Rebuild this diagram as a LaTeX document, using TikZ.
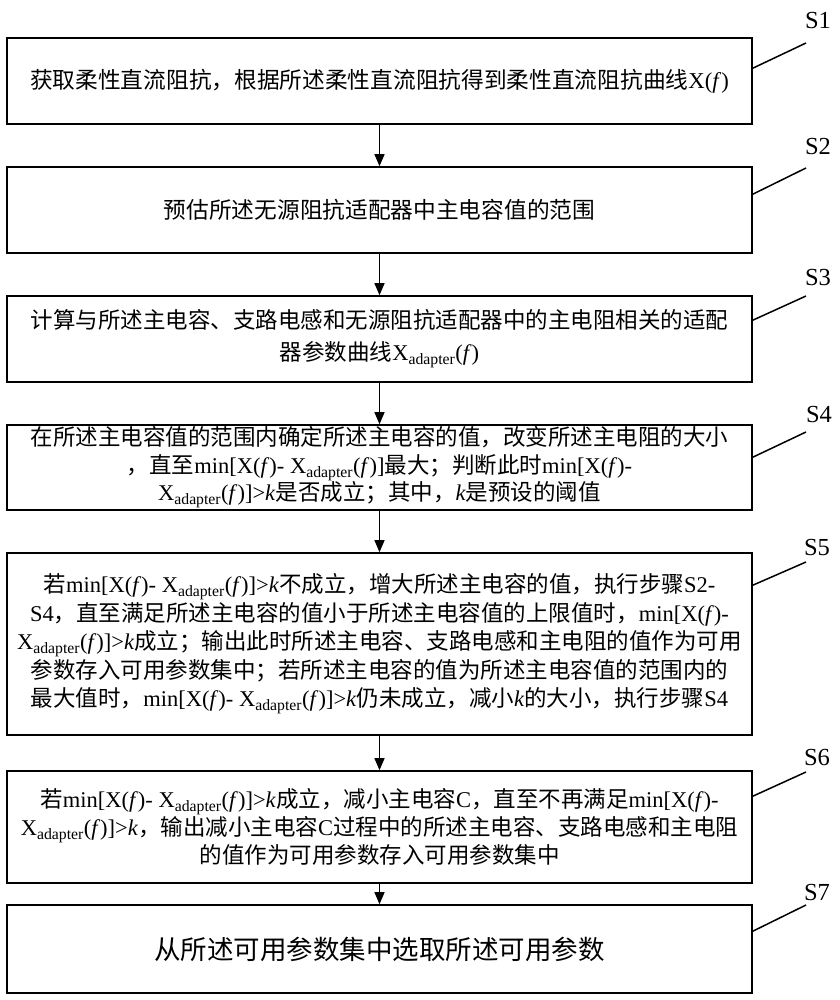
\documentclass[tikz,border=0pt]{standalone}
\usepackage{fontspec}
\setmainfont{Noto Sans CJK SC}
\newfontfamily\tm{Liberation Serif}
\usetikzlibrary{arrows.meta}
\newcommand{\Xf}{{\tm X(\textit{f})}}
\newcommand{\Xa}{{\tm X\textsubscript{adapter}(\textit{f})}}
\newcommand{\lt}[1]{{\tm #1}}
\newcommand{\kk}{{\tm\textit{k}}}
\begin{document}
\begin{tikzpicture}[x=1pt,y=-1pt,
  box/.style={draw, line width=1.6pt, minimum width=745pt, align=center, inner sep=0pt},
  txt/.style={font=\fontsize{22.5}{28.5}\selectfont},
  lab/.style={font=\tm\fontsize{24.5}{28}\selectfont, inner sep=0pt},
  arr/.style={line width=1.3pt, -{Triangle[length=12pt,width=10pt]}},
  lead/.style={line width=1.5pt}]
\path[use as bounding box] (0,0) rectangle (839,1000);

\node[box, minimum height=86pt, font=\fontsize{22.7}{27}\selectfont] (s1) at (379.5,81)
  {获取柔性直流阻抗，根据所述柔性直流阻抗得到柔性直流阻抗曲线\Xf};
\node[box, minimum height=86pt, font=\fontsize{22.7}{28.5}\selectfont] (s2) at (379.5,210)
  {预估所述无源阻抗适配器中主电容值的范围};
\node[box, minimum height=86pt, font=\fontsize{22.5}{32}\selectfont] (s3) at (379.5,339)
  {计算与所述主电容、支路电感和无源阻抗适配器中的主电阻相关的适配\\器参数曲线\Xa};
\node[box, minimum height=85pt, font=\fontsize{22.5}{27.5}\selectfont] (s4) at (379.5,467.5)
  {在所述主电容值的范围内确定所述主电容的值，改变所述主电阻的大小\\
   ，直至\lt{min[X(\textit{f})- }\Xa\lt{]}最大；判断此时\lt{min[X(\textit{f})-}\\
   \Xa\lt{]>}\kk 是否成立；其中，\kk 是预设的阈值};
\node[box, minimum height=182pt, txt] (s5) at (379.5,644)
  {若\lt{min[X(\textit{f})- }\Xa\lt{]>}\kk 不成立，增大所述主电容的值，执行步骤\lt{S2-}\\
   \lt{S4}，直至满足所述主电容的值小于所述主电容值的上限值时，\lt{min[X(\textit{f})-}\\
   \Xa\lt{]>}\kk 成立；输出此时所述主电容、支路电感和主电阻的值作为可用\\
   参数存入可用参数集中；若所述主电容的值为所述主电容值的范围内的\\
   最大值时，\lt{min[X(\textit{f})- }\Xa\lt{]>}\kk 仍未成立，减小\kk 的大小，执行步骤\lt{S4}};
\node[box, minimum height=112pt, font=\fontsize{22.5}{28}\selectfont] (s6) at (379.5,827)
  {若\lt{min[X(\textit{f})- }\Xa\lt{]>}\kk 成立，减小主电容\lt{C}，直至不再满足\lt{min[X(\textit{f})-}\\
   \Xa\lt{]>}\kk，输出减小主电容\lt{C}过程中的所述主电容、支路电感和主电阻\\
   的值作为可用参数存入可用参数集中};
\node[box, minimum height=88pt, font=\fontsize{26.5}{32}\selectfont] (s7) at (379.5,949)
  {从所述可用参数集中选取所述可用参数};

\draw[arr] (s1) -- (s2);
\draw[arr] (s2) -- (s3);
\draw[arr] (s3) -- (s4);
\draw[arr] (s4) -- (s5);
\draw[arr] (s5) -- (s6);
\draw[arr] (s6) -- (s7);

\coordinate (t1) at (806,43);
\coordinate (t2) at (806,168);
\coordinate (t3) at (806,296);
\coordinate (t4) at (806,432);
\coordinate (t5) at (806,562);
\coordinate (t6) at (806,772);
\coordinate (t7) at (806,905);
\draw[lead] ([yshift=-31pt]s1.north east) -- (t1);
\draw[lead] ([yshift=-28pt]s2.north east) -- (t2);
\draw[lead] ([yshift=-25pt]s3.north east) -- (t3);
\draw[lead] ([yshift=-33pt]s4.north east) -- (t4);
\draw[lead] ([yshift=-33pt]s5.north east) -- (t5);
\draw[lead] ([yshift=-26pt]s6.north east) -- (t6);
\draw[lead] ([yshift=-27pt]s7.north east) -- (t7);

\node[lab] (n1) at (818,21) {S1};
\node[lab] (n2) at (818,147) {S2};
\node[lab] (n3) at (818,278) {S3};
\node[lab] (n4) at (819,415) {S4};
\node[lab] (n5) at (817,548) {S5};
\node[lab] (n6) at (817,757) {S6};
\node[lab] (n7) at (817,892) {S7};
\end{tikzpicture}
\end{document}
